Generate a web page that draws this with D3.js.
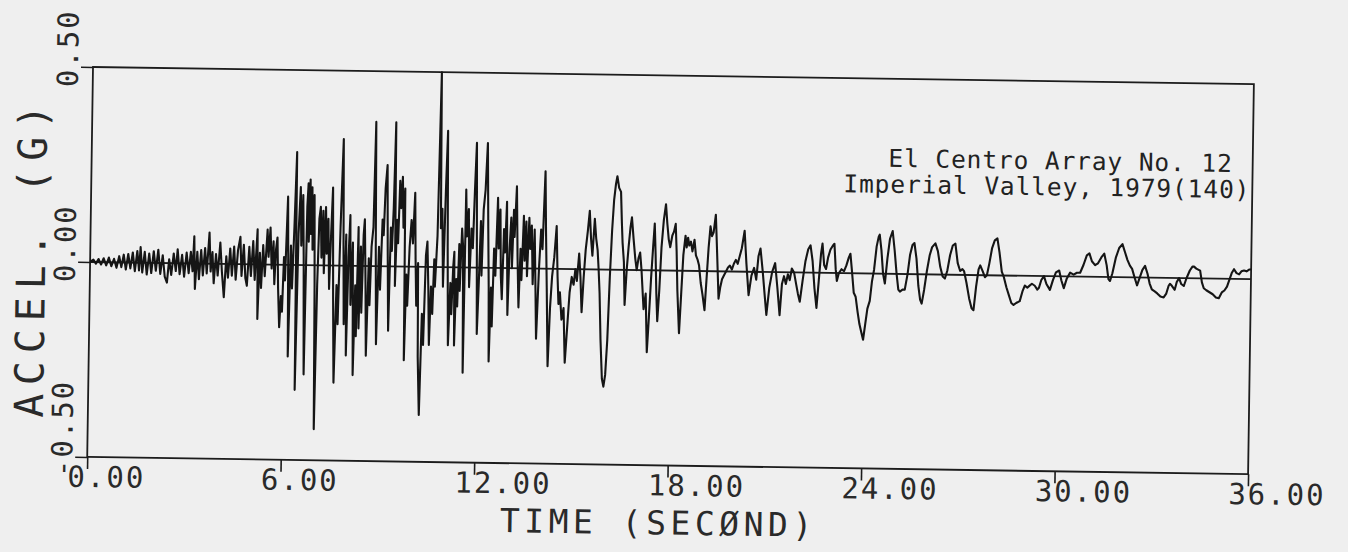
<!DOCTYPE html>
<html lang="en">
<head>
<meta charset="UTF-8">
<title>El Centro Array No. 12 - accelerogram</title>
<script src="https://cdn.jsdelivr.net/npm/d3@7"></script>
<style>
  html, body { margin: 0; padding: 0; background: #efefef; }
  svg { display: block; }
</style>
</head>
<body>
<div id="chart"></div>
<script>
// axis ticks and labels
var xTicks = [0, 6, 12, 18, 24, 30, 36];
var yTicks = [-0.5, 0, 0.5];
var xTitle = "TIME (SECØND)";
var yTitle = "ACCEL. (G)";
var titleLines = ["El Centro Array No. 12", "Imperial Valley, 1979(140)"];

// trace: [time (s), acceleration (g)]
var earlyPhase = [
  [0.00, 0.000], [0.10, 0.006], [0.18, -0.004], [0.26, 0.008], [0.34, -0.006], [0.42, 0.010],
  [0.50, -0.008], [0.58, 0.012], [0.66, -0.010], [0.74, 0.009], [0.82, -0.014], [0.90, 0.016],
  [0.97, -0.012], [1.04, 0.020], [1.11, -0.018], [1.18, 0.022], [1.25, -0.015], [1.32, 0.026],
  [1.39, -0.022], [1.46, 0.030], [1.52, -0.020], [1.56, 0.040], [1.62, -0.025], [1.69, 0.028],
  [1.76, -0.030], [1.83, 0.024], [1.90, -0.026], [1.97, 0.030], [2.04, -0.020], [2.11, 0.034],
  [2.18, -0.028], [2.25, 0.020], [2.32, -0.035], [2.39, -0.050], [2.45, 0.010], [2.52, -0.030],
  [2.59, 0.025], [2.66, -0.020], [2.71, 0.036], [2.78, -0.028], [2.85, 0.022], [2.92, -0.034],
  [2.99, 0.028], [3.06, -0.025], [3.12, 0.030], [3.18, -0.020], [3.22, 0.070], [3.26, -0.065],
  [3.32, 0.030], [3.38, -0.040], [3.44, 0.035], [3.50, -0.030], [3.56, 0.040], [3.62, -0.025],
  [3.69, 0.080], [3.74, -0.020], [3.79, 0.030], [3.84, -0.050], [3.90, 0.025], [3.96, -0.030],
  [4.03, 0.055], [4.09, -0.020], [4.16, -0.085], [4.22, 0.020], [4.28, -0.035], [4.34, 0.040],
  [4.40, -0.030], [4.46, 0.045], [4.52, -0.040], [4.58, 0.035], [4.65, 0.070], [4.70, -0.030],
  [4.76, 0.050], [4.82, -0.035], [4.87, -0.055], [4.93, 0.045], [4.99, -0.030], [5.05, 0.060],
  [5.11, -0.040], [5.18, 0.090], [5.21, -0.140], [5.26, 0.030], [5.31, -0.060], [5.36, 0.050],
  [5.42, -0.030]
];

var strongPhase = [
  [5.49, 0.090], [5.53, 0.020], [5.58, 0.095], [5.63, -0.010], [5.68, 0.060], [5.72, -0.050],
  [5.76, 0.040], [5.80, 0.070], [5.84, -0.060], [5.89, -0.160], [5.93, -0.080], [5.97, -0.120],
  [6.01, 0.020], [6.05, -0.040], [6.11, 0.175], [6.14, 0.020], [6.17, -0.235], [6.22, 0.050],
  [6.27, -0.060], [6.32, 0.100], [6.37, 0.290], [6.40, -0.320], [6.45, 0.080], [6.50, 0.200],
  [6.54, 0.050], [6.58, 0.180], [6.62, 0.020], [6.67, -0.280], [6.71, 0.150], [6.74, 0.210],
  [6.77, 0.060], [6.80, 0.220], [6.83, 0.080], [6.86, 0.200], [6.89, 0.040], [6.93, 0.180],
  [6.97, -0.050], [7.01, -0.420], [7.05, -0.050], [7.09, 0.120], [7.13, 0.150], [7.17, 0.020],
  [7.21, 0.140], [7.25, -0.020], [7.29, 0.150], [7.33, 0.030], [7.37, 0.120], [7.42, -0.060],
  [7.46, 0.080], [7.50, 0.200], [7.55, -0.080], [7.60, -0.300], [7.65, -0.050], [7.70, -0.150],
  [7.75, 0.100], [7.81, 0.325], [7.85, 0.050], [7.89, -0.150], [7.93, 0.080], [7.97, -0.230],
  [8.01, 0.020], [8.05, 0.130], [8.09, -0.100], [8.14, 0.060], [8.19, -0.280], [8.23, -0.050],
  [8.27, -0.180], [8.31, 0.100], [8.35, -0.160], [8.39, 0.050], [8.43, -0.120], [8.47, 0.080],
  [8.50, 0.120], [8.55, -0.050], [8.59, -0.230], [8.64, 0.020], [8.68, -0.100], [8.72, 0.050],
  [8.77, 0.100], [8.81, 0.370], [8.85, 0.050], [8.90, -0.200], [8.95, 0.050], [9.00, -0.060],
  [9.05, 0.120], [9.09, 0.080], [9.13, 0.200], [9.18, 0.260], [9.22, 0.050], [9.27, -0.165],
  [9.31, 0.100], [9.35, 0.040], [9.39, 0.150], [9.43, 0.370], [9.46, -0.050], [9.50, 0.120],
  [9.54, 0.060], [9.58, 0.220], [9.62, 0.150], [9.66, 0.230], [9.70, 0.100], [9.74, 0.200],
  [9.77, -0.240], [9.81, -0.020], [9.85, -0.100], [9.90, 0.050], [9.95, 0.120], [10.00, 0.060],
  [10.05, 0.190], [10.09, 0.020], [10.13, -0.100], [10.17, 0.010], [10.20, -0.230], [10.26, -0.380],
  [10.31, -0.120], [10.36, -0.200], [10.41, 0.030], [10.45, 0.065], [10.50, -0.060], [10.54, -0.200],
  [10.58, -0.050], [10.63, -0.120], [10.67, 0.020], [10.70, -0.050], [10.76, 0.080], [10.82, 0.500],
  [10.86, 0.100], [10.90, 0.150], [10.95, -0.050], [11.00, 0.200], [11.04, 0.350], [11.08, 0.050],
  [11.13, -0.200], [11.18, -0.040], [11.22, -0.120], [11.26, 0.000], [11.29, 0.040], [11.32, -0.200],
  [11.36, -0.030], [11.40, -0.100], [11.44, 0.060], [11.47, -0.060], [11.52, 0.100], [11.56, 0.050],
  [11.60, -0.270], [11.63, 0.200], [11.67, 0.080], [11.72, 0.150], [11.76, -0.050], [11.81, 0.100],
  [11.86, 0.050], [11.90, 0.200], [11.94, 0.320], [11.98, 0.080], [12.02, -0.170], [12.06, -0.040],
  [12.10, 0.120], [12.14, -0.020], [12.18, 0.150], [12.23, 0.200], [12.28, 0.320], [12.33, 0.100],
  [12.37, -0.050], [12.40, -0.240], [12.44, -0.050], [12.48, -0.150], [12.52, 0.050], [12.57, -0.020],
  [12.62, 0.180], [12.66, 0.050], [12.70, 0.150], [12.74, -0.020], [12.78, -0.080], [12.82, 0.100],
  [12.86, 0.040], [12.90, 0.170], [12.93, 0.020], [12.96, -0.120], [13.00, 0.050], [13.04, 0.130],
  [13.08, 0.000], [13.12, 0.150], [13.15, 0.080], [13.20, 0.210], [13.25, 0.030], [13.30, -0.100],
  [13.34, 0.050], [13.38, -0.030], [13.43, 0.135], [13.47, 0.020], [13.51, 0.120], [13.55, -0.020],
  [13.60, 0.130], [13.64, 0.050], [13.68, 0.110], [13.73, -0.040], [13.77, 0.100], [13.82, -0.050],
  [13.86, -0.180]
];

var coda = [
  [13.92, 0.000], [13.97, 0.100], [14.02, 0.050], [14.08, 0.250], [14.12, 0.100], [14.17, -0.050],
  [14.23, -0.250], [14.28, -0.100], [14.33, -0.020], [14.39, 0.030], [14.45, 0.110], [14.50, -0.020],
  [14.54, -0.090], [14.58, -0.060], [14.64, -0.130], [14.70, -0.100], [14.76, -0.240], [14.82, -0.150],
  [14.88, -0.060], [14.94, -0.020], [15.00, -0.040], [15.05, 0.000], [15.10, -0.030], [15.16, 0.040],
  [15.21, -0.020], [15.26, -0.110], [15.31, -0.020], [15.36, 0.050], [15.42, 0.100], [15.47, 0.150],
  [15.52, 0.080], [15.57, 0.035], [15.63, 0.130], [15.68, 0.080], [15.73, 0.050], [15.77, 0.000],
  [15.81, -0.060], [15.86, -0.180], [15.92, -0.280], [15.97, -0.300], [16.02, -0.270], [16.07, -0.180],
  [16.12, -0.020], [16.17, 0.100], [16.22, 0.180], [16.27, 0.220], [16.31, 0.240], [16.37, 0.210],
  [16.43, 0.200], [16.47, 0.120], [16.50, 0.070], [16.55, 0.020], [16.59, -0.090], [16.64, 0.000],
  [16.69, 0.060], [16.74, 0.110], [16.78, 0.135], [16.84, 0.080], [16.90, 0.030], [16.95, 0.000],
  [17.00, 0.030], [17.05, 0.045], [17.10, 0.000], [17.18, -0.100], [17.24, -0.060], [17.30, -0.210],
  [17.35, -0.120], [17.40, -0.020], [17.45, 0.060], [17.49, 0.120], [17.53, 0.040], [17.57, -0.060],
  [17.61, -0.130], [17.66, -0.050], [17.71, 0.060], [17.77, 0.130], [17.83, 0.170], [17.88, 0.120],
  [17.93, 0.080], [17.98, 0.060], [18.04, 0.090], [18.09, 0.100], [18.14, 0.120], [18.18, 0.050],
  [18.22, -0.050], [18.29, -0.160], [18.34, -0.060], [18.39, 0.040], [18.45, 0.090], [18.49, 0.060],
  [18.53, 0.085], [18.57, 0.065], [18.62, 0.075], [18.67, 0.050], [18.73, 0.080], [18.78, 0.040],
  [18.83, 0.030], [18.88, 0.015], [18.94, -0.030], [19.00, -0.060], [19.07, -0.100], [19.12, -0.020],
  [19.17, 0.060], [19.22, 0.115], [19.27, 0.090], [19.32, 0.100], [19.38, 0.145], [19.44, 0.040],
  [19.50, -0.070], [19.55, -0.040], [19.60, -0.020], [19.66, -0.010], [19.72, 0.000], [19.78, 0.010],
  [19.84, 0.015], [19.90, 0.005], [19.96, 0.020], [20.02, 0.030], [20.08, 0.020], [20.14, 0.040],
  [20.20, 0.060], [20.28, 0.105], [20.35, 0.020], [20.43, -0.060], [20.51, -0.010], [20.59, 0.010],
  [20.66, -0.020], [20.72, 0.040], [20.78, 0.060], [20.86, 0.000], [20.93, -0.060], [20.99, -0.110],
  [21.07, -0.040], [21.15, 0.000], [21.24, 0.023], [21.32, -0.040], [21.40, -0.110], [21.46, -0.030],
  [21.52, -0.010], [21.58, -0.030], [21.64, -0.005], [21.70, -0.020], [21.76, 0.010], [21.83, 0.000],
  [21.90, -0.030], [21.96, -0.055], [22.02, -0.075], [22.10, -0.020], [22.18, 0.030], [22.26, 0.060],
  [22.33, 0.070], [22.40, 0.030], [22.47, -0.040], [22.54, -0.090], [22.60, -0.020], [22.66, 0.050],
  [22.70, 0.075], [22.76, 0.020], [22.82, 0.010], [22.88, 0.040], [22.95, 0.060], [23.02, 0.070],
  [23.07, 0.075], [23.12, 0.010], [23.16, -0.020], [23.22, 0.000], [23.30, 0.010], [23.38, 0.005],
  [23.45, 0.020], [23.52, 0.040], [23.57, 0.050], [23.62, 0.010], [23.69, -0.050], [23.75, -0.060],
  [23.82, -0.100], [23.88, -0.130], [23.94, -0.150], [24.00, -0.170], [24.06, -0.130], [24.12, -0.090],
  [24.19, -0.070], [24.25, -0.020], [24.31, 0.010], [24.38, 0.070], [24.44, 0.095], [24.47, 0.100],
  [24.53, 0.060], [24.59, 0.000], [24.65, -0.025], [24.72, 0.040], [24.79, 0.090], [24.87, 0.110],
  [24.94, 0.060], [25.01, 0.000], [25.07, -0.040], [25.12, -0.045], [25.20, -0.040], [25.27, -0.040],
  [25.35, 0.000], [25.42, 0.050], [25.49, 0.075], [25.55, 0.080], [25.62, 0.040], [25.69, -0.030],
  [25.75, -0.065], [25.80, -0.075], [25.87, -0.040], [25.95, 0.010], [26.03, 0.050], [26.10, 0.070],
  [26.20, 0.080], [26.28, 0.060], [26.36, 0.020], [26.44, -0.005], [26.51, -0.010], [26.58, 0.010],
  [26.66, 0.050], [26.74, 0.075], [26.82, 0.080], [26.90, 0.030], [26.98, 0.010], [27.05, 0.015],
  [27.10, 0.010], [27.18, -0.020], [27.27, -0.060], [27.35, -0.085], [27.41, -0.090], [27.48, -0.030],
  [27.55, 0.015], [27.60, 0.025], [27.68, 0.010], [27.75, -0.005], [27.81, 0.000], [27.88, 0.030],
  [27.96, 0.070], [28.04, 0.090], [28.12, 0.095], [28.19, 0.060], [28.27, 0.010], [28.34, -0.005],
  [28.42, -0.030], [28.50, -0.050], [28.58, -0.070], [28.65, -0.075], [28.73, -0.070], [28.84, -0.065],
  [28.92, -0.040], [28.99, -0.025], [29.07, -0.030], [29.14, -0.025], [29.21, -0.020], [29.30, -0.025],
  [29.38, -0.035], [29.43, -0.030], [29.50, -0.010], [29.58, 0.000], [29.66, -0.020], [29.77, -0.035],
  [29.86, -0.010], [29.95, 0.010], [30.05, 0.015], [30.12, -0.010], [30.20, -0.030], [30.29, -0.005],
  [30.39, 0.010], [30.50, 0.005], [30.60, 0.010], [30.70, 0.010], [30.80, 0.030], [30.90, 0.055],
  [30.98, 0.060], [31.06, 0.040], [31.16, 0.030], [31.25, 0.035], [31.35, 0.050], [31.44, 0.060],
  [31.52, 0.030], [31.58, -0.005], [31.63, -0.010], [31.70, 0.010], [31.80, 0.050], [31.90, 0.075],
  [32.00, 0.085], [32.08, 0.065], [32.16, 0.045], [32.24, 0.030], [32.31, 0.022], [32.39, 0.000],
  [32.47, -0.020], [32.55, 0.000], [32.63, 0.020], [32.71, 0.030], [32.79, 0.010], [32.86, -0.015],
  [32.93, -0.030], [33.02, -0.035], [33.10, -0.040], [33.20, -0.048], [33.30, -0.050], [33.38, -0.040],
  [33.45, -0.020], [33.49, -0.015], [33.55, -0.020], [33.64, -0.030], [33.70, -0.010], [33.77, 0.000],
  [33.84, -0.015], [33.92, -0.020], [34.00, 0.000], [34.10, 0.020], [34.18, 0.030], [34.23, 0.030],
  [34.30, 0.025], [34.42, 0.020], [34.48, -0.010], [34.54, -0.025], [34.62, -0.030], [34.72, -0.035],
  [34.82, -0.040], [34.92, -0.048], [35.01, -0.050], [35.10, -0.035], [35.18, -0.030], [35.26, -0.020],
  [35.34, 0.000], [35.40, 0.015], [35.47, 0.025], [35.55, 0.015], [35.63, 0.012], [35.70, 0.020],
  [35.78, 0.022], [35.86, 0.020], [35.95, 0.025], [36.00, 0.025]
];

var width = 1348, height = 552;
var plotW = 1161, plotH = 390;
var tilt = 0.85; // the scanned sheet is slightly rotated
var ink = "#1c1c1c";
var mono = "'DejaVu Sans Mono', monospace";

var svg = d3.select("#chart").append("svg")
    .attr("width", width)
    .attr("height", height);

svg.append("rect")
    .attr("width", width)
    .attr("height", height)
    .attr("fill", "#efefef");

var g = svg.append("g")
    .attr("transform", "translate(93,67) rotate(" + tilt + ")");

var x = d3.scaleLinear().domain([0, 36]).range([0, plotW]);
var y = d3.scaleLinear().domain([-0.5, 0.5]).range([plotH, 0]);
var fmt = function(d) { return d.toFixed(2); };

// frame
g.append("rect")
    .attr("width", plotW)
    .attr("height", plotH)
    .attr("fill", "none")
    .attr("stroke", ink)
    .attr("stroke-width", 1.8);

// zero line
g.append("line")
    .attr("x1", x(0)).attr("x2", x(36))
    .attr("y1", y(0)).attr("y2", y(0))
    .attr("stroke", ink)
    .attr("stroke-width", 1.8);

// x axis
var xAxis = g.append("g")
    .attr("transform", "translate(0," + plotH + ")")
    .call(d3.axisBottom(x).tickValues(xTicks).tickSize(12).tickSizeOuter(0).tickFormat(fmt));
xAxis.select(".domain").remove();
xAxis.selectAll("line").attr("stroke", ink).attr("stroke-width", 1.6);
xAxis.selectAll("text")
    .attr("text-anchor", "start")
    .attr("x", -20)
    .attr("y", 30)
    .attr("dy", null)
    .attr("fill", "#2a2a2a")
    .attr("font-family", mono)
    .attr("font-size", 29)
    .attr("letter-spacing", 2);

// y axis
var yAxis = g.append("g")
    .call(d3.axisLeft(y).tickValues(yTicks).tickSize(12).tickSizeOuter(0).tickFormat(fmt));
yAxis.select(".domain").remove();
yAxis.selectAll("line").attr("stroke", ink).attr("stroke-width", 1.6);
yAxis.selectAll("text")
    .attr("x", null)
    .attr("dy", null)
    .attr("text-anchor", "start")
    .attr("transform", "translate(-15,20) rotate(-90)")
    .attr("fill", "#2a2a2a")
    .attr("font-family", mono)
    .attr("font-size", 29)
    .attr("letter-spacing", 2);

// axis titles
g.append("text")
    .attr("x", 572)
    .attr("y", plotH + 69)
    .attr("text-anchor", "middle")
    .attr("fill", "#2a2a2a")
    .attr("font-family", mono)
    .attr("font-size", 33)
    .attr("letter-spacing", 4.5)
    .text(xTitle);

g.append("text")
    .attr("transform", "translate(-45,191) rotate(-90)")
    .attr("text-anchor", "middle")
    .attr("fill", "#2a2a2a")
    .attr("font-family", mono)
    .attr("font-size", 40)
    .attr("letter-spacing", 8)
    .text(yTitle);

// record name
g.selectAll(".title")
    .data(titleLines)
    .enter().append("text")
    .attr("class", "title")
    .attr("x", function(d, i) { return i === 0 ? 1141 : 1159; })
    .attr("y", function(d, i) { return 88 + i * 26; })
    .attr("text-anchor", "end")
    .attr("fill", "#222")
    .attr("font-family", mono)
    .attr("font-size", 24.5)
    .attr("letter-spacing", 0.9)
    .text(function(d) { return d; });

// acceleration trace
var trace = earlyPhase.concat(strongPhase, coda);
var line = d3.line()
    .x(function(d) { return x(d[0]); })
    .y(function(d) { return y(d[1]); });

g.append("path")
    .datum(trace)
    .attr("fill", "none")
    .attr("stroke", "#151515")
    .attr("stroke-width", 2.1)
    .attr("stroke-linejoin", "round")
    .attr("d", line);
</script>
</body>
</html>
